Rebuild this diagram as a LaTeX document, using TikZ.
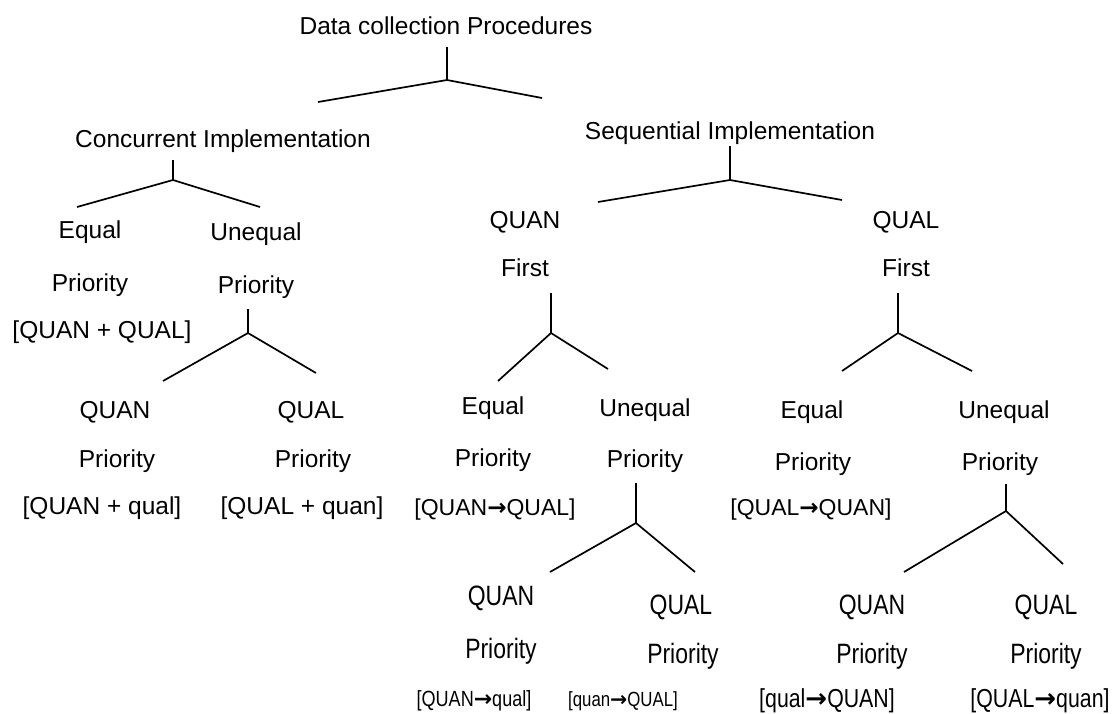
\documentclass[tikz,border=0pt]{standalone}
\usepackage{fontspec}
\setmainfont{Liberation Sans}
\newfontfamily\narrowfont[FakeStretch=0.82]{Liberation Sans}
\newfontfamily\arrowfont{DejaVu Sans}
\newcommand\rarr{{\arrowfont\bfseries →}}
\begin{document}
\begin{tikzpicture}[x=1pt,y=-1pt,
  lbl/.style={inner sep=0pt, anchor=base, font=\fontsize{24.5}{28}\selectfont},
  albl/.style={inner sep=0pt, anchor=base, font=\fontsize{23}{26}\selectfont},
  nlbl/.style={inner sep=0pt, anchor=base, font=\fontsize{28}{30}\narrowfont},
  slbl/.style={inner sep=0pt, anchor=base, font=\fontsize{22}{26}\narrowfont},
  tlbl/.style={inner sep=0pt, anchor=base, font=\fontsize{20.5}{26}\narrowfont},
  mlbl/.style={inner sep=0pt, anchor=base, font=\fontsize{26}{28}\narrowfont},
  br/.style={line width=1.7pt, line join=miter}]
\useasboundingbox (0,0) rectangle (1117,713);
% labels
\node[lbl] (title) at (446,34) {Data collection Procedures};
\node[lbl] (conc) at (223,147) {Concurrent Implementation};
\node[lbl] (seq) at (730,139) {Sequential Implementation};
\node[lbl] (ceq) at (90,238) {Equal};
\node[lbl] (cuneq) at (256,240) {Unequal};
\node[lbl] (ceqp) at (90,291) {Priority};
\node[lbl] (cuneqp) at (256,293) {Priority};
\node[lbl] (ceqf) at (102,338) {[QUAN + QUAL]};
\node[lbl] (cquan) at (115,418) {QUAN};
\node[lbl] (cqual) at (311,418) {QUAL};
\node[lbl] (cquanp) at (117,467) {Priority};
\node[lbl] (cqualp) at (313,467) {Priority};
\node[lbl] (cquanf) at (102,514) {[QUAN + qual]};
\node[lbl] (cqualf) at (302,514) {[QUAL + quan]};
\node[lbl] (squan) at (525,228) {QUAN};
\node[lbl] (squal) at (906,228) {QUAL};
\node[lbl] (squanfst) at (525,276) {First};
\node[lbl] (squalfst) at (906,276) {First};
\node[lbl] (aeq) at (493,414) {Equal};
\node[lbl] (auneq) at (645,416) {Unequal};
\node[lbl] (aeqp) at (493,466) {Priority};
\node[lbl] (auneqp) at (645,467) {Priority};
\node[albl] (aeqf) at (495,515) {[QUAN\rarr QUAL]};
\node[lbl] (beq) at (812,418) {Equal};
\node[lbl] (buneq) at (1004,418) {Unequal};
\node[lbl] (beqp) at (813,470) {Priority};
\node[lbl] (buneqp) at (1000,470) {Priority};
\node[albl] (beqf) at (811,515) {[QUAL\rarr QUAN]};
\node[nlbl] (dquan) at (501,605) {QUAN};
\node[nlbl] (dqual) at (681,614) {QUAL};
\node[nlbl] (equan) at (872,614) {QUAN};
\node[nlbl] (equal) at (1046,614) {QUAL};
\node[nlbl] (dquanp) at (501,658) {Priority};
\node[nlbl] (dqualp) at (683,663) {Priority};
\node[nlbl] (equanp) at (872,663) {Priority};
\node[nlbl] (equalp) at (1046,663) {Priority};
\node[slbl] (dquanf) at (474,706) {[QUAN\rarr qual]};
\node[tlbl] (dqualf) at (623,706) {[quan\rarr QUAL]};
\node[mlbl] (equanf) at (827,707) {[qual\rarr QUAN]};
\node[mlbl] (equalf) at (1040,707) {[QUAL\rarr quan]};
% branching connectors
\foreach \t/\sx/\sy/\jy/\lx/\ly/\rx/\ry in {
  a/447/47/80/318/102/542/98,
  b/173/160/180/77/207/260/207,
  c/248/309/333/163/381/316/373,
  d/730/146/180/598/202/842/200,
  e/551/293/333/498/381/608/369,
  f/898/293/333/842/371/972/371,
  g/636/483/523/550/572/695/572,
  h/1006/484/511/904/572/1063/564}{
  \coordinate (s\t) at (\sx,\sy);
  \coordinate (j\t) at (\sx,\jy);
  \coordinate (l\t) at (\lx,\ly);
  \coordinate (r\t) at (\rx,\ry);
  \draw[br] (s\t) -- (j\t) -- (l\t) (j\t) -- (r\t);
}
\end{tikzpicture}
\end{document}
